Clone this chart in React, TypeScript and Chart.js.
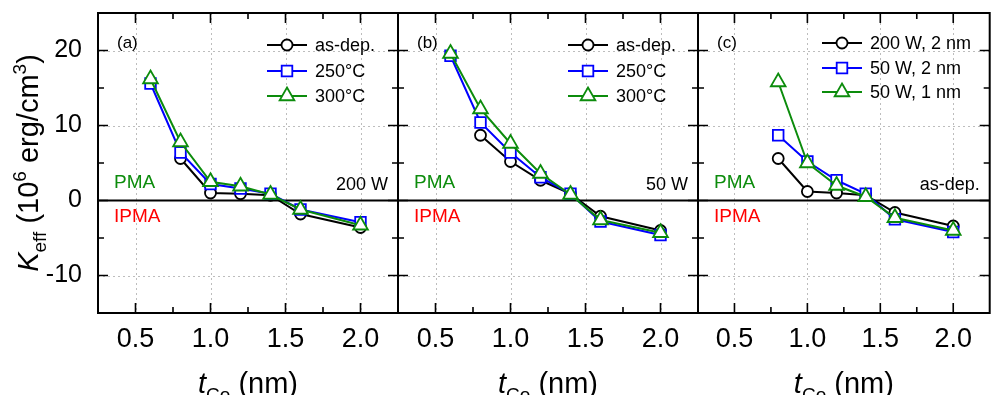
import React, { useEffect, useRef } from 'react';
import { Chart, registerables } from 'chart.js';

Chart.register(...registerables);

// ---------- DATA ----------
const thickFull = [0.6, 0.8, 1.0, 1.2, 1.4, 1.6, 2.0];
const thickFrom08 = [0.8, 1.0, 1.2, 1.4, 1.6, 2.0];

// (a) 200 W
const a_asDep = [5.6, 1.0, 0.9, 0.7, -1.8, -3.6];
const a_250 = [15.6, 6.4, 2.2, 1.6, 0.9, -1.2, -2.9];
const a_300 = [16.2, 7.8, 2.5, 1.9, 0.8, -1.2, -3.3];
// (b) 50 W
const b_asDep = [8.7, 5.2, 2.7, 0.9, -2.1, -4.0];
const b_250 = [19.3, 10.4, 6.4, 3.1, 0.9, -2.8, -4.6];
const b_300 = [19.6, 12.2, 7.6, 3.6, 0.8, -2.6, -4.3];
// (c) as-dep.
const c_200W2 = [5.6, 1.2, 1.0, 0.7, -1.6, -3.4];
const c_50W2 = [8.7, 5.2, 2.7, 0.9, -2.5, -4.2];
const c_50W1 = [15.8, 5.0, 2.0, 0.5, -2.3, -4.0];

const labelsAB = ['as-dep.', '250°C', '300°C'];
const labelsC = ['200 W, 2 nm', '50 W, 2 nm', '50 W, 1 nm'];

const xTicks = [0.5, 1.0, 1.5, 2.0];
const xMinor = [0.75, 1.25, 1.75];
const yTicks = [-10, 0, 10, 20];
const yMinor = [-5, 5, 15];

// ---------- STYLE ----------
const FONT = "'Liberation Sans', Arial, sans-serif";
const BLACK = '#000000';
const BLUE = '#0000ff';
const GREEN = '#0c8c0c';
const RED = '#ff0000';
const CW = 1000;
const CH = 395;

type Panel = {
  key: string;
  left: number;
  right: number;
  showY: boolean;
  tag: string;
  cornerLabel: string;
  legendLineX: number;
  legendRows: number[];
  series: { x: number[]; y: number[]; label: string; color: string; style: string; radius: number }[];
};

const zip = (xs: number[], ys: number[]) => ys.map((v, i) => ({ x: xs[i], y: v }));

const panels: Panel[] = [
  {
    key: 'a', left: 98, right: 398, showY: true, tag: '(a)', cornerLabel: '200 W',
    legendLineX: 169, legendRows: [45, 71, 96],
    series: [
      { x: thickFrom08, y: a_asDep, label: labelsAB[0], color: BLACK, style: 'circle', radius: 5.5 },
      { x: thickFull, y: a_250, label: labelsAB[1], color: BLUE, style: 'rect', radius: 7.5 },
      { x: thickFull, y: a_300, label: labelsAB[2], color: GREEN, style: 'triangle', radius: 8.5 },
    ],
  },
  {
    key: 'b', left: 398, right: 698, showY: false, tag: '(b)', cornerLabel: '50 W',
    legendLineX: 170, legendRows: [45, 71, 96],
    series: [
      { x: thickFrom08, y: b_asDep, label: labelsAB[0], color: BLACK, style: 'circle', radius: 5.5 },
      { x: thickFull, y: b_250, label: labelsAB[1], color: BLUE, style: 'rect', radius: 7.5 },
      { x: thickFull, y: b_300, label: labelsAB[2], color: GREEN, style: 'triangle', radius: 8.5 },
    ],
  },
  {
    key: 'c', left: 698, right: 998, showY: false, tag: '(c)', cornerLabel: 'as-dep.',
    legendLineX: 124, legendRows: [43, 68, 92],
    series: [
      { x: thickFrom08, y: c_200W2, label: labelsC[0], color: BLACK, style: 'circle', radius: 5.5 },
      { x: thickFrom08, y: c_50W2, label: labelsC[1], color: BLUE, style: 'rect', radius: 7.5 },
      { x: thickFrom08, y: c_50W1, label: labelsC[2], color: GREEN, style: 'triangle', radius: 8.5 },
    ],
  },
];

function drawMarker(ctx: CanvasRenderingContext2D, style: string, x: number, y: number, r: number, color: string) {
  ctx.save();
  ctx.beginPath();
  if (style === 'circle') {
    ctx.arc(x, y, r, 0, Math.PI * 2);
  } else if (style === 'rect') {
    const s = Math.SQRT1_2 * r;
    ctx.rect(x - s, y - s, 2 * s, 2 * s);
  } else {
    ctx.moveTo(x, y - r);
    ctx.lineTo(x + Math.sin((2 * Math.PI) / 3) * r, y + r / 2);
    ctx.lineTo(x - Math.sin((2 * Math.PI) / 3) * r, y + r / 2);
    ctx.closePath();
  }
  ctx.fillStyle = '#ffffff';
  ctx.fill();
  ctx.lineWidth = 1.8;
  ctx.strokeStyle = color;
  ctx.stroke();
  ctx.restore();
}

type Seg = { t: string; size: number; italic?: boolean; dy?: number };

function richWidth(ctx: CanvasRenderingContext2D, segs: Seg[]) {
  let w = 0;
  for (const s of segs) {
    ctx.font = `${s.italic ? 'italic ' : ''}${s.size}px ${FONT}`;
    w += ctx.measureText(s.t).width;
  }
  return w;
}

function drawRich(ctx: CanvasRenderingContext2D, segs: Seg[], x: number, y: number) {
  let cx = x;
  ctx.textBaseline = 'alphabetic';
  ctx.textAlign = 'left';
  for (const s of segs) {
    ctx.font = `${s.italic ? 'italic ' : ''}${s.size}px ${FONT}`;
    ctx.fillText(s.t, cx, y + (s.dy || 0));
    cx += ctx.measureText(s.t).width;
  }
}

function makePlugin(p: Panel) {
  return {
    id: 'panelDeco' + p.key,
    beforeDatasetsDraw(chart: any) {
      const { ctx, chartArea } = chart;
      const { left, right, top, bottom } = chartArea;
      const x = chart.scales.x;
      const y = chart.scales.y;
      ctx.save();
      ctx.strokeStyle = '#bdbdbd';
      ctx.lineWidth = 1;
      ctx.setLineDash([2, 3]);
      for (const v of xTicks) {
        const px = Math.round(x.getPixelForValue(v)) + 0.5;
        ctx.beginPath();
        ctx.moveTo(px, top);
        ctx.lineTo(px, bottom);
        ctx.stroke();
      }
      for (const v of yTicks) {
        if (v === 0) continue;
        const py = Math.round(y.getPixelForValue(v)) + 0.5;
        ctx.beginPath();
        ctx.moveTo(left, py);
        ctx.lineTo(right, py);
        ctx.stroke();
      }
      ctx.setLineDash([]);
      const y0 = y.getPixelForValue(0);
      ctx.strokeStyle = BLACK;
      ctx.lineWidth = 2;
      ctx.beginPath();
      ctx.moveTo(left, y0);
      ctx.lineTo(right, y0);
      ctx.stroke();

      ctx.textBaseline = 'middle';
      ctx.font = `19px ${FONT}`;
      ctx.textAlign = 'left';
      ctx.fillStyle = GREEN;
      ctx.fillText('PMA', left + 16, 183);
      ctx.fillStyle = RED;
      ctx.fillText('IPMA', left + 16, 217);
      ctx.fillStyle = BLACK;
      ctx.textAlign = 'right';
      ctx.font = `18px ${FONT}`;
      ctx.fillText(p.cornerLabel, right - 10, 185);
      ctx.restore();
    },
    afterDatasetsDraw(chart: any) {
      const { ctx, chartArea } = chart;
      const { left, right, top, bottom } = chartArea;
      const x = chart.scales.x;
      const y = chart.scales.y;
      ctx.save();
      // frame
      ctx.strokeStyle = BLACK;
      ctx.lineWidth = 2;
      ctx.strokeRect(left, top, right - left, bottom - top);
      // inward ticks
      ctx.lineWidth = 1.6;
      const tick = (vals: number[], len: number) => {
        for (const v of vals) {
          const px = x.getPixelForValue(v);
          ctx.beginPath();
          ctx.moveTo(px, bottom);
          ctx.lineTo(px, bottom - len);
          ctx.moveTo(px, top);
          ctx.lineTo(px, top + len);
          ctx.stroke();
        }
      };
      tick(xTicks, 10);
      tick(xMinor, 6);
      const ytick = (vals: number[], len: number) => {
        for (const v of vals) {
          const py = y.getPixelForValue(v);
          ctx.beginPath();
          ctx.moveTo(left, py);
          ctx.lineTo(left + len, py);
          ctx.moveTo(right, py);
          ctx.lineTo(right - len, py);
          ctx.stroke();
        }
      };
      ytick(yTicks, 10);
      ytick(yMinor, 6);

      // panel tag
      ctx.fillStyle = BLACK;
      ctx.font = `17px ${FONT}`;
      ctx.textAlign = 'left';
      ctx.textBaseline = 'middle';
      ctx.fillText(p.tag, left + 19, 43);

      // legend
      p.series.forEach((s, i) => {
        const ly = p.legendRows[i];
        const lx = left + p.legendLineX;
        ctx.strokeStyle = s.color;
        ctx.lineWidth = 2;
        ctx.beginPath();
        ctx.moveTo(lx, ly);
        ctx.lineTo(lx + 40, ly);
        ctx.stroke();
        drawMarker(ctx, s.style, lx + 20, ly, s.radius, s.color);
        ctx.fillStyle = BLACK;
        ctx.font = `18px ${FONT}`;
        ctx.textAlign = 'left';
        ctx.textBaseline = 'middle';
        ctx.fillText(s.label, lx + 48, ly + 1);
      });

      // x title
      ctx.fillStyle = BLACK;
      const xt: Seg[] = [
        { t: 't', size: 29, italic: true },
        { t: 'Co', size: 19, dy: 8 },
        { t: ' (nm)', size: 29 },
      ];
      const w = richWidth(ctx, xt);
      drawRich(ctx, xt, (left + right) / 2 - w / 2, 393);

      // y title
      if (p.showY) {
        const yt: Seg[] = [
          { t: 'K', size: 29, italic: true },
          { t: 'eff', size: 19, dy: 8 },
          { t: ' (10', size: 29 },
          { t: '6', size: 19, dy: -12 },
          { t: ' erg/cm', size: 29 },
          { t: '3', size: 19, dy: -12 },
          { t: ')', size: 29 },
        ];
        const wy = richWidth(ctx, yt);
        ctx.translate(38, (top + bottom) / 2);
        ctx.rotate(-Math.PI / 2);
        drawRich(ctx, yt, -wy / 2, 0);
      }
      ctx.restore();
    },
  };
}

function buildConfig(p: Panel): any {
  const order = [2, 1, 0];
  return {
    type: 'line',
    data: {
      datasets: p.series.map((s, i) => ({
        label: s.label,
        data: zip(s.x, s.y),
        borderColor: s.color,
        backgroundColor: s.color,
        borderWidth: 2,
        pointStyle: s.style,
        pointRadius: s.radius,
        pointBorderWidth: 1.8,
        pointBackgroundColor: '#ffffff',
        pointBorderColor: s.color,
        tension: 0,
        order: order[i],
      })),
    },
    options: {
      animation: false,
      responsive: false,
      events: [],
      layout: {
        padding: { left: p.showY ? 0 : p.left, right: CW - p.right, top: 13, bottom: 0 },
      },
      plugins: { legend: { display: false }, tooltip: { enabled: false }, title: { display: false } },
      scales: {
        x: {
          type: 'linear',
          min: 0.25,
          max: 2.25,
          afterBuildTicks: (s: any) => {
            s.ticks = xTicks.map((v) => ({ value: v }));
          },
          afterFit: (s: any) => {
            s.height = CH - 313;
            s.paddingLeft = 0;
            s.paddingRight = 0;
          },
          grid: { display: false, drawTicks: false, tickLength: 0 },
          border: { display: false },
          ticks: {
            color: BLACK,
            font: { family: FONT, size: 27 },
            padding: 10,
            maxRotation: 0,
            autoSkip: false,
            callback: (v: number) => v.toFixed(1),
          },
        },
        y: {
          type: 'linear',
          display: p.showY,
          min: -15,
          max: 25,
          afterBuildTicks: (s: any) => {
            s.ticks = yTicks.map((v) => ({ value: v }));
          },
          afterFit: (s: any) => {
            s.width = p.showY ? 98 : 0;
            s.paddingTop = 0;
            s.paddingBottom = 0;
          },
          grid: { display: false, drawTicks: false, tickLength: 0 },
          border: { display: false },
          ticks: {
            color: BLACK,
            font: { family: FONT, size: 25 },
            padding: 16,
            autoSkip: false,
            callback: (v: number) => String(v),
          },
        },
      },
    },
    plugins: [makePlugin(p)],
  };
}

export default function App() {
  const refA = useRef<HTMLCanvasElement>(null);
  const refB = useRef<HTMLCanvasElement>(null);
  const refC = useRef<HTMLCanvasElement>(null);

  useEffect(() => {
    const refs = [refA, refB, refC];
    const charts = panels.map((p, i) => new Chart(refs[i].current as HTMLCanvasElement, buildConfig(p)));
    return () => charts.forEach((c) => c.destroy());
  }, []);

  const cs: React.CSSProperties = { position: 'absolute', left: 0, top: 0, width: CW, height: CH };
  return (
    <div style={{ position: 'fixed', left: 0, top: 0, width: 994, height: 395, overflow: 'hidden', background: '#ffffff' }}>
      <canvas ref={refA} width={CW} height={CH} style={cs} />
      <canvas ref={refB} width={CW} height={CH} style={cs} />
      <canvas ref={refC} width={CW} height={CH} style={cs} />
    </div>
  );
}
